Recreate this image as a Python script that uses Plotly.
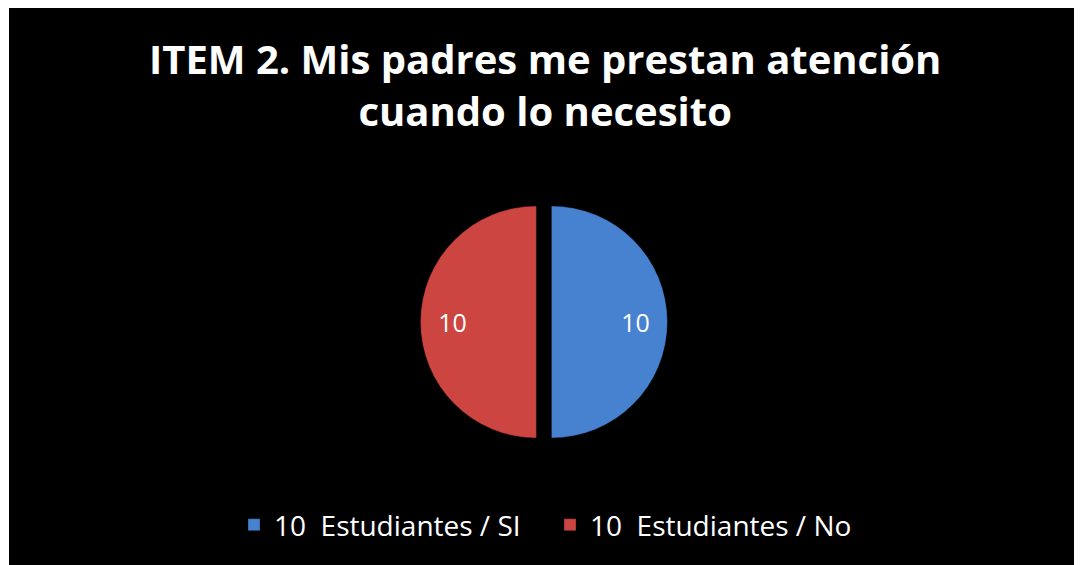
import plotly.graph_objects as go

labels = ["10\u00a0 Estudiantes / SI", "10\u00a0 Estudiantes / No"]
values = [10, 10]
colors = ["#4682d0", "#cc4540"]
title = "ITEM 2. Mis padres me prestan atención<br>cuando lo necesito"

# page body keeps its 8px margin, so the figure is a bit smaller than the window
W, H = 1074, 557

pad = "\u00a0" * 8
fig = go.Figure(go.Pie(
    labels=labels,
    values=values,
    sort=False,
    direction="clockwise",
    rotation=0,
    pull=[0.065, 0.065],
    marker=dict(colors=colors, line=dict(color="rgba(0,0,0,0.3)", width=1)),
    texttemplate=[pad + "%{value}", "%{value}" + pad],
    textposition="inside",
    insidetextorientation="horizontal",
    textfont=dict(family="Open Sans", size=25, color="white"),
    domain=dict(x=[0.3, 0.698], y=[1 - 437.5 / H, 1 - 190.5 / H]),
    hoverinfo="label+value",
))

fig.update_layout(
    width=W, height=H,
    paper_bgcolor="black",
    plot_bgcolor="black",
    margin=dict(l=0, r=0, t=0, b=0),
    legend=dict(
        orientation="h",
        x=226 / W, xanchor="left",
        y=1 - 517 / H, yanchor="middle",
        font=dict(family="Open Sans", size=28, color="white"),
        bgcolor="rgba(0,0,0,0)",
        entrywidth=271, entrywidthmode="pixels",
    ),
    annotations=[dict(
        text=title, xref="paper", yref="paper",
        x=537 / W, y=1 - 76 / H, xanchor="center", yanchor="middle",
        showarrow=False, align="center",
        font=dict(family="Open Sans", size=40, color="white", weight="bold"),
    )],
    shapes=[
        dict(type="rect", xref="paper", yref="paper", x0=0, x1=1 / W, y0=0, y1=1,
             fillcolor="white", line=dict(width=0), layer="above"),
    ],
)

fig.write_html("out.html")
